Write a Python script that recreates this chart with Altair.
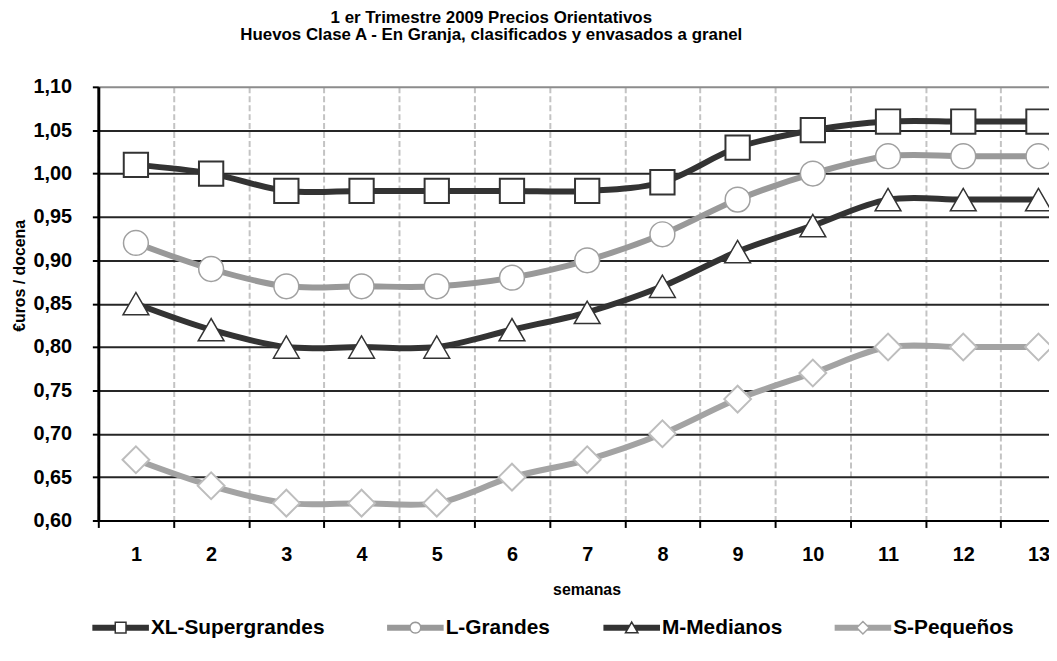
import math
import altair as alt
import pandas as pd

# ---------------- data ----------------
weeks = list(range(1, 14))
series_names = ["XL-Supergrandes", "L-Grandes", "M-Medianos", "S-Pequeños"]
xl_values = [1.01, 1.00, 0.98, 0.98, 0.98, 0.98, 0.98, 0.99, 1.03, 1.05, 1.06, 1.06, 1.06]
l_values = [0.92, 0.89, 0.87, 0.87, 0.87, 0.88, 0.90, 0.93, 0.97, 1.00, 1.02, 1.02, 1.02]
m_values = [0.85, 0.82, 0.80, 0.80, 0.80, 0.82, 0.84, 0.87, 0.91, 0.94, 0.97, 0.97, 0.97]
s_values = [0.67, 0.64, 0.62, 0.62, 0.62, 0.65, 0.67, 0.70, 0.74, 0.77, 0.80, 0.80, 0.80]
y_tick_values = [0.60, 0.65, 0.70, 0.75, 0.80, 0.85, 0.90, 0.95, 1.00, 1.05, 1.10]
week_boundaries = [w - 0.5 for w in weeks]

title_lines = ["1 er Trimestre 2009  Precios Orientativos",
               "Huevos Clase A - En Granja, clasificados y envasados a granel"]
x_title = "semanas"
y_title = "€uros / docena"

rows = []
for name, vals in zip(series_names, [xl_values, l_values, m_values, s_values]):
    for w, v in zip(weeks, vals):
        rows.append({"series": name, "week": w, "price": v})
df = pd.DataFrame(rows)

# ---------------- styles ----------------
FONT = "Liberation Sans"
line_colors = ["#333333", "#999999", "#333333", "#a3a3a3"]
line_widths = [6, 6, 6, 5]
marker_shapes = ["square", "circle", "triangle-up", "diamond"]
marker_strokes = ["#333333", "#a0a0a0", "#333333", "#bdbdbd"]
marker_stroke_widths = [2, 1.5, 1.5, 2]
marker_sizes = [600, 625, 676, 729]
legend_colors = ["#333333", "#999999", "#333333", "#a3a3a3"]

# legend layout (pixels, relative to the plot area): start of each entry's symbol
legend_entry_starts = [-6, 291, 509, 742]
legend_row_y = 545
LEGEND_SYMBOL_W = 57
LEGEND_LABEL_GAP = 2

# legend symbols drawn as strokes: thick line (4 parallel strokes) + hollow marker
BAR_YS = [-0.079, -0.026, 0.026, 0.079]


def f(v):
    return f"{v:.3f}"


def bars(edge):
    out = ""
    for y in BAR_YS:
        xin = edge(y)
        out += f"M{f(xin)},{f(y)}H1M{f(-xin)},{f(y)}H-1"
    return out


def poly(points):
    return "M" + "L".join(f"{f(x)},{f(y)}" for x, y in points) + "Z"


square_sym = bars(lambda y: 0.19) + poly([(-0.19, -0.19), (0.19, -0.19), (0.19, 0.19), (-0.19, 0.19)])
circle_sym = (bars(lambda y: math.sqrt(0.19 ** 2 - y ** 2))
              + poly([(0.19 * math.cos(2 * math.pi * k / 24), 0.19 * math.sin(2 * math.pi * k / 24))
                      for k in range(24)]))
tri_sym = bars(lambda y: 0.22 * (y + 0.2) / 0.38) + poly([(0, -0.2), (0.22, 0.18), (-0.22, 0.18)])
diamond_sym = bars(lambda y: 0.22 - abs(y)) + poly([(0, -0.22), (0.22, 0), (0, 0.22), (-0.22, 0)])
legend_symbols = [square_sym, circle_sym, tri_sym, diamond_sym]

# ---------------- chart ----------------
x_axis = alt.Axis(
    values=week_boundaries,
    labelExpr="format(datum.value + 0.5, 'd')",
    labelOffset=37.9,
    labelFlush=False,
    labelOverlap=False,
    labelFont=FONT, labelFontSize=20, labelFontWeight="bold", labelColor="#000000",
    labelPadding=17,
    ticks=True, tickSize=7, tickWidth=2, tickColor="#000000",
    domainColor="#000000", domainWidth=2,
    grid=True, gridColor="#c3c3c3", gridDash=[6, 3], gridWidth=2,
    title=x_title, titleFont=FONT, titleFontSize=16, titleFontWeight="bold",
    titleColor="#000000", titleX=492, titleY=70, titleBaseline="middle", titleAlign="center",
)
y_axis = alt.Axis(
    values=y_tick_values,
    labelExpr="replace(format(datum.value, '.2f'), '.', ',')",
    labelFont=FONT, labelFontSize=20, labelFontWeight="bold", labelColor="#000000",
    labelPadding=21,
    tickSize=6, tickWidth=2, tickColor="#000000",
    domainColor="#000000", domainWidth=3,
    grid=True,
    gridColor={"condition": {"test": "datum.value >= 1.09", "value": "#8c8c8c"}, "value": "#262626"},
    gridWidth=2,
    title=y_title, titleFont=FONT, titleFontSize=16, titleFontWeight="bold",
    titleColor="#000000", titleX=-79, titleY=190, titleBaseline="middle", titleAlign="center",
    titleAngle=270,
)

base = alt.Chart(df).encode(
    x=alt.X("week:Q", scale=alt.Scale(domain=[0.5, 13.14], nice=False, zero=False), axis=x_axis),
    y=alt.Y("price:Q", scale=alt.Scale(domain=[0.6, 1.1], nice=False, zero=False), axis=y_axis),
)

lines = base.mark_line(interpolate="catmull-rom", strokeCap="butt").encode(
    color=alt.Color("series:N", scale=alt.Scale(domain=series_names, range=line_colors), legend=None),
    strokeWidth=alt.StrokeWidth("series:N", scale=alt.Scale(domain=series_names, range=line_widths), legend=None),
    detail="series:N",
)

point_layers = []
for name, shp, stc, stw, sz in zip(series_names, marker_shapes, marker_strokes,
                                   marker_stroke_widths, marker_sizes):
    point_layers.append(
        base.transform_filter(alt.datum.series == name).mark_point(
            shape=shp, filled=True, fill="#ffffff", stroke=stc, strokeWidth=stw,
            size=sz, opacity=1,
        )
    )

# legend drawn as marks under the plot
legend_layers = []
for name, sym, col, x0 in zip(series_names, legend_symbols, legend_colors, legend_entry_starts):
    entry = alt.Chart(pd.DataFrame({"series": [name]}))
    legend_layers.append(
        entry.mark_point(shape=sym, size=LEGEND_SYMBOL_W ** 2, filled=True, fill="#ffffff",
                         stroke=col, strokeWidth=1.5, opacity=1).encode(
            x=alt.value(x0 + LEGEND_SYMBOL_W / 2), y=alt.value(legend_row_y))
    )
    legend_layers.append(
        entry.mark_text(align="left", baseline="middle", font=FONT, fontSize=21,
                        fontWeight="bold", color="#000000").encode(
            x=alt.value(x0 + LEGEND_SYMBOL_W + LEGEND_LABEL_GAP), y=alt.value(legend_row_y),
            text="series:N")
    )

chart = alt.layer(lines, *point_layers, *legend_layers).properties(
    width=958,
    height=437,
    autosize=alt.AutoSizeParams(type="none"),
    padding={"left": 91, "top": 77, "right": 0, "bottom": 122},
    title=alt.TitleParams(
        text=title_lines, font=FONT, fontSize=17, fontWeight="bold", color="#000000",
        anchor="middle", dx=-83, offset=33, lineHeight=17,
    ),
).configure_view(stroke=None).configure(background="#ffffff")

chart.save("out.html", embed_options={"renderer": "svg", "actions": False})
